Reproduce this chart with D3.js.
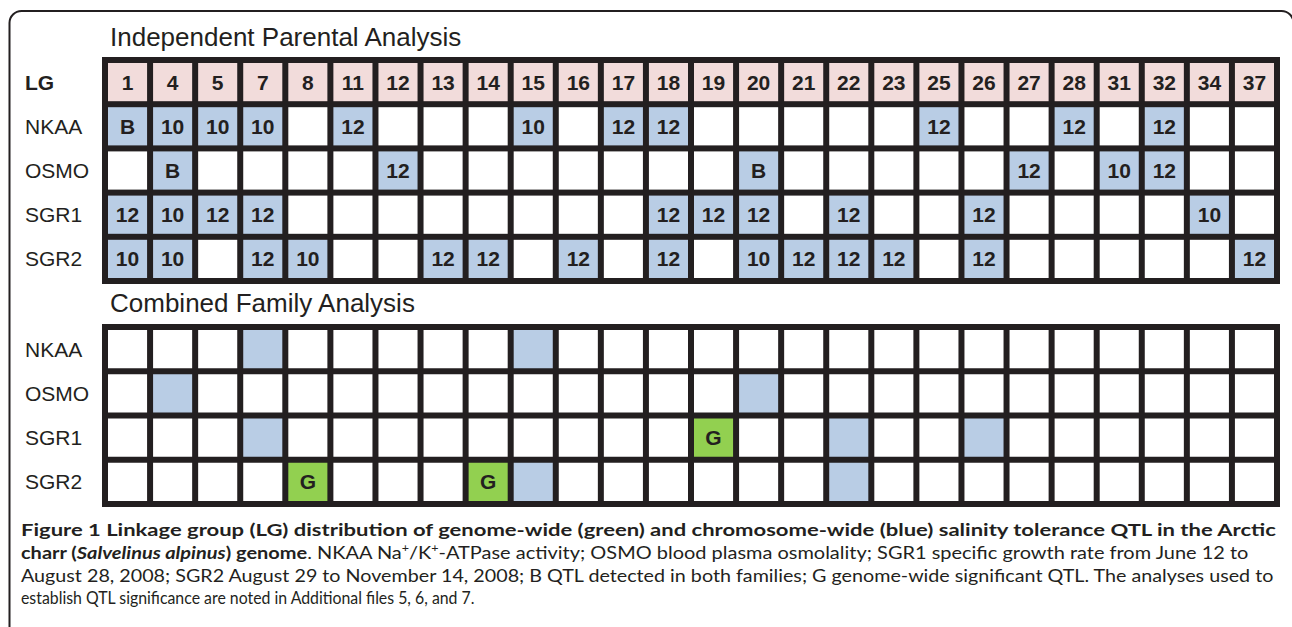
<!DOCTYPE html>
<html lang="en">
<head>
  <meta charset="UTF-8">
  <title>Figure 1 - QTL by linkage group</title>
  <script src="https://d3js.org/d3.v7.min.js"></script>
  <style>
    body { margin: 0; background: #fff; }
    svg { display: block; }
    .grid-title { font-family: "Liberation Sans", Arial, sans-serif; font-size: 26px; fill: #231f20; }
    .row-label { font-family: "Liberation Sans", Arial, sans-serif; font-size: 21px; fill: #231f20; }
    .cell-text { font-family: "Liberation Sans", Arial, sans-serif; font-size: 21px; font-weight: bold; fill: #231f20; }
    .caption { font-family: Lato, "Open Sans", sans-serif; font-size: 17.5px; fill: #231f20; }
  </style>
</head>
<body>
  <svg width="1292" height="627"></svg>

  <script>
    // linkage groups (columns)
    const lgColumns = ["1", "4", "5", "7", "8", "11", "12", "13", "14", "15", "16", "17", "18",
                       "19", "20", "21", "22", "23", "25", "26", "27", "28", "31", "32", "34", "37"];
    const traits = ["NKAA", "OSMO", "SGR1", "SGR2"];

    // Independent parental analysis: [LG, label]
    const parentalNKAA = [["1", "B"], ["4", "10"], ["5", "10"], ["7", "10"], ["11", "12"], ["15", "10"],
                          ["17", "12"], ["18", "12"], ["25", "12"], ["28", "12"], ["32", "12"]];
    const parentalOSMO = [["4", "B"], ["12", "12"], ["20", "B"], ["27", "12"], ["31", "10"], ["32", "12"]];
    const parentalSGR1 = [["1", "12"], ["4", "10"], ["5", "12"], ["7", "12"], ["18", "12"], ["19", "12"],
                          ["20", "12"], ["22", "12"], ["26", "12"], ["34", "10"]];
    const parentalSGR2 = [["1", "10"], ["4", "10"], ["7", "12"], ["8", "10"], ["13", "12"], ["14", "12"],
                          ["16", "12"], ["18", "12"], ["20", "10"], ["21", "12"], ["22", "12"], ["23", "12"],
                          ["26", "12"], ["37", "12"]];

    // Combined family analysis: [LG, "C" chromosome-wide | "G" genome-wide]
    const combinedNKAA = [["7", "C"], ["15", "C"]];
    const combinedOSMO = [["4", "C"], ["20", "C"]];
    const combinedSGR1 = [["7", "C"], ["19", "G"], ["22", "C"], ["26", "C"]];
    const combinedSGR2 = [["8", "G"], ["14", "G"], ["15", "C"], ["22", "C"]];

    const parental = [parentalNKAA, parentalOSMO, parentalSGR1, parentalSGR2];
    const combined = [combinedNKAA, combinedOSMO, combinedSGR1, combinedSGR2];

    const colors = { header: "#f2dcdb", chrom: "#b9cde5", genome: "#92d050", empty: "#ffffff", line: "#231f20" };

    const svg = d3.select("svg");
    const LW = 6;
    const gridLeft = 102, gridRight = 1280;

    // outer rounded frame
    svg.append("rect")
      .attr("x", 9.5).attr("y", 11)
      .attr("width", 1284).attr("height", 700)
      .attr("rx", 12)
      .attr("fill", "none")
      .attr("stroke", colors.line)
      .attr("stroke-width", 2);

    const x = d3.scaleBand()
      .domain(lgColumns)
      .range([gridLeft + LW, gridRight]);

    function drawGrid(top, bottom, rows, cellFor) {
      const y = d3.scaleBand().domain(rows).range([top + LW, bottom]);
      const g = svg.append("g");
      const cw = x.bandwidth() - LW, ch = y.bandwidth() - LW;

      g.append("rect")
        .attr("x", gridLeft).attr("y", top)
        .attr("width", gridRight - gridLeft).attr("height", bottom - top)
        .attr("fill", colors.line);

      const cells = [];
      rows.forEach((r, ri) => lgColumns.forEach(c => cells.push({ row: r, ri, col: c, ...cellFor(r, ri, c) })));

      g.selectAll(".cell")
        .data(cells)
        .join("rect")
          .attr("class", "cell")
          .attr("x", d => x(d.col))
          .attr("y", d => y(d.row))
          .attr("width", cw)
          .attr("height", ch)
          .attr("fill", d => d.fill);

      g.selectAll(".cell-text")
        .data(cells.filter(d => d.text))
        .join("text")
          .attr("class", "cell-text")
          .attr("x", d => x(d.col) + cw / 2)
          .attr("y", d => y(d.row) + ch / 2 + 7.5)
          .attr("text-anchor", "middle")
          .text(d => d.text);

      g.selectAll(".row-label")
        .data(rows)
        .join("text")
          .attr("class", "row-label")
          .attr("x", 25)
          .attr("y", d => y(d) + ch / 2 + 7.5)
          .style("font-weight", d => d === "LG" ? "bold" : null)
          .text(d => d);
    }

    // Independent Parental Analysis
    svg.append("text").attr("class", "grid-title").attr("x", 110).attr("y", 46)
      .text("Independent Parental Analysis");

    drawGrid(57, 284, ["LG", ...traits], (r, ri, c) => {
      if (ri === 0) return { fill: colors.header, text: c };
      const hit = parental[ri - 1].find(p => p[0] === c);
      return hit ? { fill: colors.chrom, text: hit[1] } : { fill: colors.empty, text: "" };
    });

    // Combined Family Analysis
    svg.append("text").attr("class", "grid-title").attr("x", 110).attr("y", 312)
      .text("Combined Family Analysis");

    drawGrid(324, 507, traits, (r, ri, c) => {
      const hit = combined[ri].find(p => p[0] === c);
      if (!hit) return { fill: colors.empty, text: "" };
      return hit[1] === "G" ? { fill: colors.genome, text: "G" } : { fill: colors.chrom, text: "" };
    });

    // caption, each line stretched to its measured width in the figure
    const captionLines = [
      { y: 536, width: 1256, parts: [
        { t: "Figure 1 Linkage group (LG) distribution of genome-wide (green) and chromosome-wide (blue) salinity tolerance QTL in the Arctic", w: "bold" }] },
      { y: 559, width: 1228, parts: [
        { t: "charr (", w: "bold" }, { t: "Salvelinus alpinus", w: "bold", i: true }, { t: ") genome", w: "bold" },
        { t: ". NKAA Na" }, { t: "+", sup: true }, { t: "/K" }, { t: "+", sup: true },
        { t: "-ATPase activity; OSMO blood plasma osmolality; SGR1 specific growth rate from June 12 to" }] },
      { y: 582, width: 1254, parts: [
        { t: "August 28, 2008; SGR2 August 29 to November 14, 2008; B QTL detected in both families; G genome-wide significant QTL. The analyses used to" }] },
      { y: 604, width: 454, parts: [
        { t: "establish QTL significance are noted in Additional files 5, 6, and 7." }] }
    ];

    captionLines.forEach(line => {
      const txt = svg.append("text").attr("class", "caption").attr("x", 0).attr("y", 0);
      line.parts.forEach(p => {
        const ts = txt.append("tspan").text(p.t);
        if (p.w) ts.style("font-weight", p.w);
        if (p.i) ts.style("font-style", "italic");
        if (p.sup) ts.attr("dy", -7).style("font-size", "11px");
        else if (txt.selectAll("tspan").size() > 1 && line.parts[line.parts.indexOf(p) - 1].sup) ts.attr("dy", 7);
      });
      const w = txt.node().getComputedTextLength();
      txt.attr("transform", `translate(21,${line.y}) scale(${line.width / w},1)`);
    });
  </script>
</body>
</html>
